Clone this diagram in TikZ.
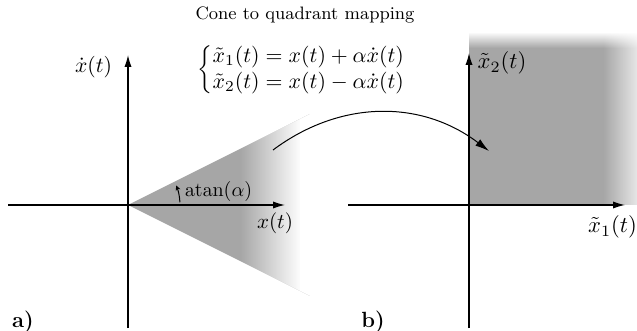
\RequirePackage{fix-cm}
\documentclass[tikz,border=0pt]{standalone}
\usetikzlibrary{arrows.meta,fadings}
\tikzfading[name=fadetoright, left color=transparent!100, right color=transparent!0]
\tikzfading[name=fadetotop, top color=transparent!0, bottom color=transparent!100]
\definecolor{regiongray}{gray}{0.65}
\tikzset{
  axis/.style={line width=0.6pt, -{Latex[length=6pt,width=3.6pt]}},
  mapcurve/.style={line width=0.5pt, -{Latex[length=7pt,width=4pt]}},
  lbl/.style={inner sep=0pt},
  panel/.style={inner sep=0pt, font=\rmfamily\bfseries\fontsize{11}{13}\selectfont},
}
\begin{document}
\begin{tikzpicture}[x=0.5pt,y=0.5pt]
\useasboundingbox (0,0) rectangle (637,-331);
% cone
\begin{scope}
  \clip (128,-205) -- (310,-296) -- (310,-114) -- cycle;
  \fill[regiongray] (128,-100) rectangle (310,-310);
  \fill[white, path fading=fadetoright] (240,-100) rectangle (301,-310);
  \fill[white] (300,-100) rectangle (311,-310);
\end{scope}
% quadrant
\begin{scope}
  \clip (469,-33) rectangle (637,-205);
  \fill[regiongray] (469,-33) rectangle (637,-205);
  \fill[white, path fading=fadetotop] (469,-32) rectangle (637,-48);
  \fill[white, path fading=fadetoright] (603,-32) rectangle (650,-205);
\end{scope}
% left axes
\coordinate (lb) at (128,-328);
\coordinate (lt) at (128,-55);
\coordinate (ll) at (8,-205);
\coordinate (lr) at (285,-205);
\coordinate (lo) at (128,-205);
\draw[axis] (lb) -- (lt);
\draw[axis] (ll) -- (lr);
% right axes
\coordinate (rb) at (469,-328);
\coordinate (rt) at (469,-53);
\coordinate (rl) at (348,-205);
\coordinate (rr) at (625,-205);
\draw[axis] (rb) -- (rt);
\draw[axis] (rl) -- (rr);
% angle
\draw[line width=0.5pt, -{Stealth[length=2.5pt,width=2.5pt]}] ([shift={(3:52)}]lo) arc (3:22:52);
% mapping curve
\coordinate (cs) at (273,-150);
\coordinate (ce) at (489,-151);
\draw[mapcurve] (cs) to[bend left=37] (ce);
% labels
\node[lbl, font=\rmfamily\fontsize{9}{11}\selectfont] (title) at (305,-15) {Cone to quadrant mapping};
\node[lbl, font=\fontsize{10.9}{13}\selectfont] (eq) at (302,-70)
  {$\left\{\renewcommand{\arraystretch}{1}\setlength{\arraycolsep}{0pt}\begin{array}{l}
   \tilde x_1(t) = x(t) + \alpha\dot x(t)\\
   \tilde x_2(t) = x(t) - \alpha\dot x(t)
   \end{array}\right.$};
\node[lbl, font=\fontsize{10.8}{12}\selectfont] (xdot) at (93.5,-67) {$\dot x(t)$};
\node[lbl, font=\fontsize{10.5}{12}\selectfont] (xt) at (275,-223) {$x(t)$};
\node[lbl, font=\fontsize{10}{12}\selectfont] (ang) at (218.5,-192) {$\mathrm{atan}(\alpha)$};
\node[lbl, font=\fontsize{11.3}{13}\selectfont] (x2) at (502,-63) {$\tilde x_2(t)$};
\node[lbl, font=\fontsize{11.3}{13}\selectfont] (x1) at (612.5,-227) {$\tilde x_1(t)$};
\node[panel] (pa) at (23,-322) {a)};
\node[panel] (pb) at (373,-322) {b)};
\end{tikzpicture}
\end{document}
